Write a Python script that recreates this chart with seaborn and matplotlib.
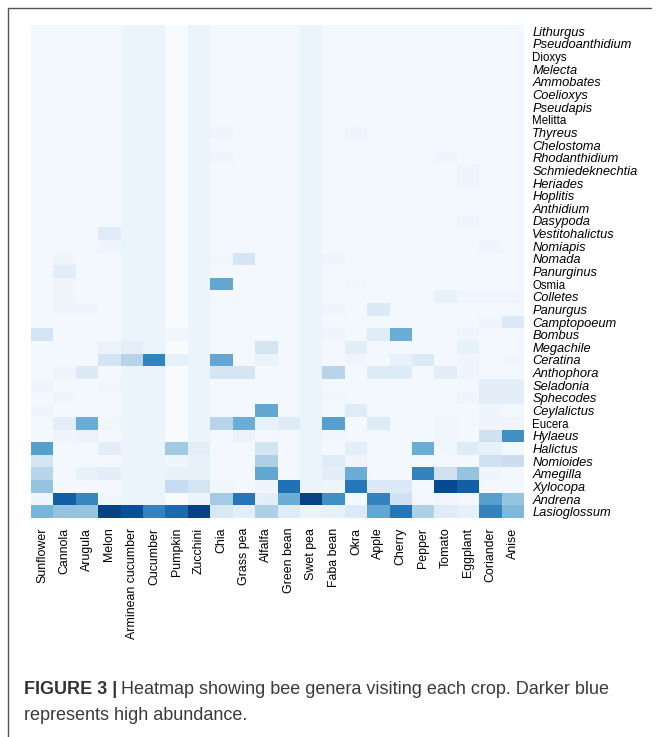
import matplotlib
matplotlib.use("Agg")
import matplotlib.pyplot as plt
import seaborn as sns
import numpy as np
import pandas as pd
from matplotlib.lines import Line2D

sns.set_theme(style="white")
plt.rcParams['font.family'] = ['Liberation Sans', 'DejaVu Sans']

crops = ["Sunflower", "Cannola", "Arugula", "Melon", "Arminean cucumber", "Cucumber",
         "Pumpkin", "Zucchini", "Chia", "Grass pea", "Alfalfa", "Green bean", "Swet pea",
         "Faba bean", "Okra", "Apple", "Cherry", "Pepper", "Tomato", "Eggplant",
         "Coriander", "Anise"]

genera = ["Lithurgus", "Pseudoanthidium", "Dioxys", "Melecta", "Ammobates", "Coelioxys",
          "Pseudapis", "Melitta", "Thyreus", "Chelostoma", "Rhodanthidium",
          "Schmiedeknechtia", "Heriades", "Hoplitis", "Anthidium", "Dasypoda",
          "Vestitohalictus", "Nomiapis", "Nomada", "Panurginus", "Osmia", "Colletes",
          "Panurgus", "Camptopoeum", "Bombus", "Megachile", "Ceratina", "Anthophora",
          "Seladonia", "Sphecodes", "Ceylalictus", "Eucera", "Hylaeus", "Halictus",
          "Nomioides", "Amegilla", "Xylocopa", "Andrena", "Lasioglossum"]

upright_genera = ["Dioxys", "Melitta", "Osmia", "Eucera"]

# relative abundance, one row per genus, columns in crop order
abundance = [
    [.02,.02,.02,.02,.06,.06,0,.06,.02,.02,.02,.02,.06,.02,.02,.02,.02,.02,.02,.02,.02,.02],  # Lithurgus
    [.02,.02,.02,.02,.06,.06,0,.06,.02,.02,.02,.02,.06,.02,.02,.02,.02,.02,.02,.02,.02,.02],  # Pseudoanthidium
    [.02,.02,.02,.02,.06,.06,0,.06,.02,.02,.02,.02,.06,.02,.02,.02,.02,.02,.02,.02,.02,.02],  # Dioxys
    [.02,.02,.02,.02,.06,.06,0,.06,.02,.02,.02,.02,.06,.02,.02,.02,.02,.02,.02,.02,.02,.02],  # Melecta
    [.02,.02,.02,.02,.06,.06,0,.06,.02,.02,.02,.02,.06,.02,.02,.02,.02,.02,.02,.02,.02,.02],  # Ammobates
    [.02,.02,.02,.02,.06,.06,0,.06,.02,.02,.02,.02,.06,.02,.02,.02,.02,.02,.02,.02,.02,.02],  # Coelioxys
    [.02,.02,.02,.02,.06,.06,0,.06,.02,.02,.02,.02,.06,.02,.02,.02,.02,.02,.02,.02,.02,.02],  # Pseudapis
    [.02,.02,.02,.02,.06,.06,0,.06,.02,.02,.02,.02,.06,.02,.02,.02,.02,.02,.02,.02,.02,.02],  # Melitta
    [.02,.02,.02,.02,.06,.06,0,.06,.05,.02,.02,.02,.06,.02,.05,.02,.02,.02,.02,.02,.02,.02],  # Thyreus
    [.02,.02,.02,.02,.06,.06,0,.06,.02,.02,.02,.02,.06,.02,.02,.02,.02,.02,.02,.02,.02,.02],  # Chelostoma
    [.02,.02,.02,.02,.06,.06,0,.06,.05,.02,.02,.02,.06,.02,.02,.02,.02,.02,.05,.02,.02,.02],  # Rhodanthidium
    [.02,.02,.02,.02,.06,.06,0,.06,.02,.02,.02,.02,.06,.02,.02,.02,.02,.02,.02,.05,.02,.02],  # Schmiedeknechtia
    [.02,.02,.02,.02,.06,.06,0,.06,.02,.02,.02,.02,.06,.02,.02,.02,.02,.02,.02,.05,.02,.02],  # Heriades
    [.02,.02,.02,.02,.06,.06,0,.06,.02,.02,.02,.02,.06,.02,.02,.02,.02,.02,.02,.02,.02,.02],  # Hoplitis
    [.02,.02,.02,.02,.06,.06,0,.06,.02,.02,.02,.02,.06,.02,.02,.02,.02,.02,.02,.02,.02,.02],  # Anthidium
    [.02,.02,.02,.02,.06,.06,0,.06,.02,.02,.02,.02,.06,.02,.02,.02,.02,.02,.02,.05,.02,.02],  # Dasypoda
    [.02,.02,.02,.12,.06,.06,0,.06,.02,.02,.02,.02,.06,.02,.02,.02,.02,.02,.02,.02,.02,.02],  # Vestitohalictus
    [.02,.02,.02,.05,.06,.06,0,.06,.02,.02,.02,.02,.06,.02,.02,.02,.02,.02,.02,.02,.05,.02],  # Nomiapis
    [.02,.05,.02,.02,.06,.06,0,.06,.04,.17,.02,.02,.06,.05,.02,.02,.02,.02,.02,.02,.02,.02],  # Nomada
    [.02,.11,.02,.02,.06,.06,0,.06,.02,.02,.02,.02,.06,.02,.02,.02,.02,.02,.02,.02,.02,.02],  # Panurginus
    [.02,.05,.02,.02,.06,.06,0,.06,.53,.02,.02,.02,.06,.02,.04,.02,.02,.02,.02,.02,.02,.02],  # Osmia
    [.02,.05,.02,.02,.06,.06,0,.06,.02,.02,.02,.02,.06,.02,.02,.02,.02,.02,.08,.05,.05,.05],  # Colletes
    [.02,.05,.05,.02,.06,.06,0,.06,.02,.02,.02,.02,.06,.05,.02,.14,.02,.02,.02,.02,.02,.02],  # Panurgus
    [.02,.02,.02,.02,.06,.06,0,.06,.02,.02,.02,.02,.06,.02,.02,.02,.02,.02,.02,.02,.05,.14],  # Camptopoeum
    [.18,.02,.02,.02,.06,.06,.04,.06,.02,.02,.02,.02,.06,.05,.02,.12,.50,.02,.02,.05,.02,.02],  # Bombus
    [.02,.02,.02,.07,.09,.06,0,.06,.02,.02,.18,.02,.06,.02,.10,.02,.02,.02,.02,.08,.02,.02],  # Megachile
    [.02,.02,.02,.18,.30,.68,.08,.06,.53,.02,.07,.02,.06,.02,.05,.02,.08,.14,.02,.05,.02,.05],  # Ceratina
    [.02,.05,.14,.02,.06,.06,0,.06,.17,.17,.02,.02,.06,.30,.02,.13,.13,.02,.10,.05,.02,.02],  # Anthophora
    [.05,.02,.02,.04,.06,.06,0,.06,.02,.02,.02,.02,.06,.02,.02,.02,.02,.02,.02,.02,.10,.10],  # Seladonia
    [.02,.05,.02,.02,.06,.06,0,.06,.02,.02,.02,.02,.06,.04,.02,.02,.02,.02,.02,.05,.10,.10],  # Sphecodes
    [.05,.02,.02,.02,.06,.06,0,.06,.02,.02,.53,.02,.06,.02,.12,.02,.02,.02,.02,.02,.05,.02],  # Ceylalictus
    [.02,.10,.50,.04,.06,.06,0,.06,.30,.50,.08,.12,.06,.56,.02,.12,.02,.02,.04,.02,.05,.05],  # Eucera
    [.02,.05,.07,.02,.06,.06,0,.06,.02,.07,.02,.02,.06,.04,.02,.02,.02,.02,.04,.02,.20,.63],  # Hylaeus
    [.56,.02,.02,.10,.06,.06,.37,.10,.02,.02,.18,.02,.06,.02,.10,.02,.02,.50,.04,.12,.08,.02],  # Halictus
    [.18,.02,.02,.02,.06,.06,.05,.08,.02,.02,.33,.02,.06,.12,.05,.02,.02,.02,.02,.02,.20,.23],  # Nomioides
    [.30,.02,.08,.10,.06,.06,.08,.08,.02,.02,.53,.02,.06,.10,.50,.02,.02,.68,.20,.40,.05,.02],  # Amegilla
    [.40,.02,.02,.02,.06,.06,.25,.18,.04,.02,.05,.75,.06,.05,.73,.14,.14,.02,.90,.82,.02,.02],  # Xylocopa
    [.05,.82,.67,.04,.06,.06,0,.06,.36,.73,.10,.50,.93,.63,.02,.68,.20,.02,.04,.02,.56,.40],  # Andrena
    [.47,.40,.40,.93,.88,.68,.77,.93,.15,.10,.33,.12,.06,.08,.14,.53,.73,.33,.12,.08,.68,.45],  # Lasioglossum
]

df = pd.DataFrame(abundance, index=genera, columns=crops)

W, H = 659, 737
fig = plt.figure(figsize=(W / 100, H / 100), dpi=100)
ax = fig.add_axes([31 / W, 1 - 518 / H, 493 / W, 493 / H])

sns.heatmap(df, ax=ax, cmap="Blues", vmin=0, vmax=1, cbar=False,
            xticklabels=True, yticklabels=True, linewidths=0)

ax.yaxis.tick_right()
ax.tick_params(axis='both', length=0)
ax.tick_params(axis='y', pad=6, labelsize=9.3, labelcolor='#000000')
ax.tick_params(axis='x', pad=7, labelsize=8.9, labelcolor='#000000')
plt.setp(ax.get_xticklabels(), rotation=90, ha='center', va='top')
for lbl in ax.get_yticklabels():
    lbl.set_rotation(0)
    lbl.set_ha('left')
    if lbl.get_text() in upright_genera:
        lbl.set_fontstyle('normal')
        lbl.set_fontsize(8.3)
    else:
        lbl.set_fontstyle('italic')
ax.set_xlabel("")
ax.set_ylabel("")

# figure frame (top and left edges)
fig.add_artist(Line2D([8 / W, 651 / W], [1 - 8 / H, 1 - 8 / H], color='#555555', lw=1.0))
fig.add_artist(Line2D([8 / W, 8 / W], [1 - 8 / H, 0], color='#555555', lw=1.0))

# caption
cap_color = '#333333'
t1 = fig.text(24 / W, 1 - 690 / H, "FIGURE 3 |", fontsize=13, fontweight='bold',
              color=cap_color, va='center', ha='left')
fig.canvas.draw()
bb = t1.get_window_extent()
fig.text((bb.x1 + 4) / W, 1 - 690 / H,
         "Heatmap showing bee genera visiting each crop. Darker blue",
         fontsize=13, color='#3a3a3a', va='center', ha='left')
fig.text(24 / W, 1 - 716 / H, "represents high abundance.",
         fontsize=13, color='#3a3a3a', va='center', ha='left')

fig.savefig("out.png", dpi=100)
